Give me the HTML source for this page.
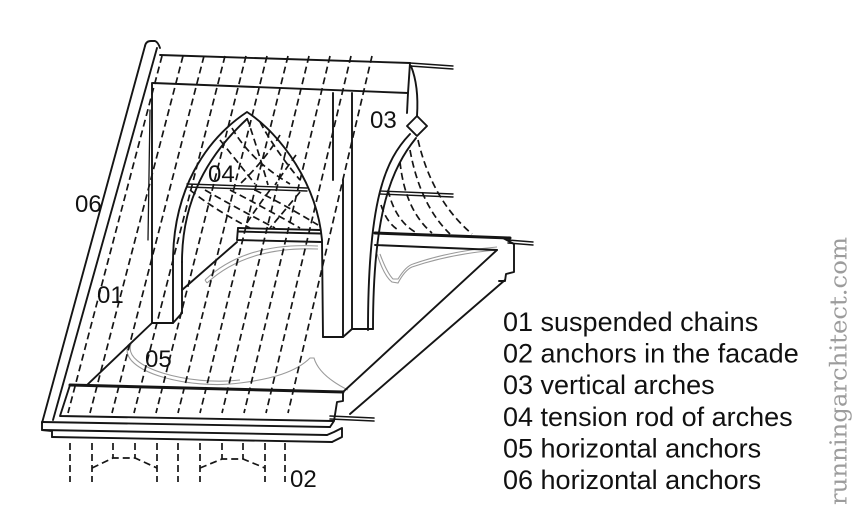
<!DOCTYPE html>
<html><head><meta charset="utf-8"><style>
html,body{margin:0;padding:0;background:#fff;}
svg{display:block}
</style></head><body>
<svg width="863" height="511" viewBox="0 0 863 511" xmlns="http://www.w3.org/2000/svg">
<rect width="863" height="511" fill="#fff"/>

<!-- grey horizontal anchors -->
<g fill="none" stroke="#9a9a9a" stroke-width="1.1">
  <path d="M205 280 Q245 242 318 246"/>
  <path d="M207 283 Q247 246 318 249"/>
  <path d="M205 280 L207 283"/>
  <path d="M377 254 Q384 276 392 282 L398 283 Q405 270 412 267 Q450 254 497 250"/>
  <path d="M380 254 Q387 273 393 279 L398 279 Q406 266 413 264 Q450 251 497 247"/>
  <path d="M128 345 C118 372 190 390 240 383 C272 379 296 372 310 358 L314 358 C318 372 332 382 348 390"/>
  <path d="M131 344 C122 368 190 386 240 380"/>
</g>

<g fill="none" stroke="#151515" stroke-width="1.9" stroke-linejoin="round" stroke-linecap="round">
  <!-- left beam (06) -->
  <path d="M145 46 L42 423"/>
  <path d="M157 48 L53 420"/>
  <path d="M145 46 Q146 41 151 41 L155 41 Q158 42 160 48"/>
  <path d="M150 110 L148 240" stroke-width="1.3"/>

  <!-- top beam -->
  <path d="M160 55 L410 63"/>
  <path d="M153 83 L408 93"/>
  <path d="M410 63 L408 93 L407 113"/>
  <path d="M411 66 Q419 86 417 116"/>
  <path d="M417 116 L427 126 L417 136 L407 126 Z"/>

  <!-- left pier -->
  <path d="M152 83 L152 323 L173 323 L182 313"/>
  <path d="M173 323 L173 262"/>
  <path d="M182 313 L182 262"/>

  <!-- gothic arch -->
  <path d="M173 262 C173 190 205 140 247 112 C282 135 317 185 322 240 L323 337"/>
  <path d="M182 262 C182 200 208 155 247 119"/>

  <!-- shelf / floor under arch -->
  <path d="M238 228 L320 230"/>
  <path d="M238 231.5 L320 233.5"/>
  <path d="M238 228 L237 240 L322 242"/>
  <path d="M237 242 L182 290"/>
  <path d="M152 323 L87 385"/>

  <!-- central pier -->
  <path d="M333 93 L333 180"/>
  <path d="M343 180 L343 337"/>
  <path d="M352 93 L352 329"/>
  <path d="M323 337 L343 337 L352 329 L373 329"/>

  <!-- 03 arch -->
  <path d="M410 134 C385 160 368 200 368 330"/>
  <path d="M416 138 C392 168 373 210 373 329"/>

  <!-- right floor / frame -->
  <path d="M375 245 L497 250"/>
  <path d="M503 238 L514 244 L514 272 L506 274 L505 281 L499 281"/>
  <path d="M497 250 L343 392"/>
  <path d="M505 280 L350 414"/>

  <!-- bottom beam -->
  <path d="M70 385 L60 416 L333 421"/>
  <path d="M42 422 L330 427"/>
  <path d="M42 430 L327 435"/>
  <path d="M52 437 L332 442"/>
  <path d="M42 422 L42 430 L52 431 L52 437"/>
  <path d="M343 392 L343 401 L337 402 L334 421 L330 427"/>
  <path d="M327 435 L334 432 L342 428 L342 437 L332 442"/>
</g>

<!-- thick / double rod lines -->
<g fill="none" stroke="#151515" stroke-linecap="round">
  <path d="M70 385 L343 392" stroke-width="3"/>
  <path d="M375 233 L510 238" stroke-width="3"/>
  <path d="M410 63 L453 66" stroke-width="1.4"/>
  <path d="M410 66 L453 69" stroke-width="1.4"/>
  <path d="M187 184 L307 188" stroke-width="1.4"/>
  <path d="M187 187 L307 191" stroke-width="1.4"/>
  <path d="M380 191 L453 194" stroke-width="1.4"/>
  <path d="M380 194 L453 197" stroke-width="1.4"/>
  <path d="M508 240 L533 242" stroke-width="1.5"/>
  <path d="M508 243 L533 245" stroke-width="1.5"/>
  <path d="M330 416 L374 418" stroke-width="1.6"/>
  <path d="M330 419 L374 421" stroke-width="1.6"/>
</g>

<!-- dashed suspended chains -->
<g fill="none" stroke="#151515" stroke-width="1.7" stroke-dasharray="7 4">
  <path d="M162 56 L68 413"/>
  <path d="M183 56 L90 413"/>
  <path d="M204 56 L112 413"/>
  <path d="M225 56 L134 413"/>
  <path d="M246 56 L156 413"/>
  <path d="M267 56 L178 413"/>
  <path d="M288 56 L200 413"/>
  <path d="M309 56 L222 413"/>
  <path d="M330 56 L244 413"/>
  <path d="M351 56 L266 413"/>
  <path d="M372 56 L288 413"/>
  <!-- arch hatching above rod -->
  <path d="M247 118 Q258 150 268 185"/>
  <path d="M232 128 Q250 160 290 184"/>
  <path d="M220 140 Q240 165 255 184"/>
  <path d="M260 122 Q275 150 300 180"/>
  <path d="M280 135 Q265 160 240 184"/>
  <path d="M296 155 Q285 170 275 185"/>
  <!-- below rod -->
  <path d="M190 190 Q215 210 250 228"/>
  <path d="M205 190 Q240 210 275 228"/>
  <path d="M230 190 Q265 208 300 228"/>
  <path d="M255 190 Q285 205 318 225"/>
  <path d="M300 192 Q285 210 270 228"/>
  <path d="M270 190 Q255 210 245 226"/>
  <!-- 03 arch hanging chains -->
  <path d="M418 140 Q432 200 472 234"/>
  <path d="M410 150 Q420 205 450 234"/>
  <path d="M400 162 Q405 210 432 233"/>
  <path d="M388 190 Q395 220 415 232"/>
  <path d="M381 205 Q387 224 400 231"/>
  <!-- facade anchors (02) -->
  <path d="M70 443 L70 482"/>
  <path d="M92 443 L92 482"/>
  <path d="M157 443 L157 482"/>
  <path d="M178 443 L178 482"/>
  <path d="M200 443 L200 482"/>
  <path d="M265 443 L265 482"/>
  <path d="M285 443 L285 482"/>
  <path d="M113 443 L113 458"/>
  <path d="M135 443 L135 458"/>
  <path d="M222 443 L222 459"/>
  <path d="M243 443 L243 459"/>
  <path d="M92 468 L113 458 L135 458 L157 468"/>
  <path d="M200 468 L222 459 L243 459 L265 468"/>
</g>

<!-- labels -->
<g font-family="Liberation Sans, Arial, sans-serif" font-size="24" fill="#111">
  <text x="370" y="128">03</text>
  <text x="208" y="182">04</text>
  <text x="75" y="212">06</text>
  <text x="97" y="303">01</text>
  <text x="145" y="367">05</text>
  <text x="290" y="487">02</text>
</g>

<!-- legend -->
<g font-family="Liberation Sans, Arial, sans-serif" font-size="27" fill="#111">
  <text x="503" y="331">01 suspended chains</text>
  <text x="503" y="362.6">02 anchors in the facade</text>
  <text x="503" y="394.2">03 vertical arches</text>
  <text x="503" y="425.8">04 tension rod of arches</text>
  <text x="503" y="457.4">05 horizontal anchors</text>
  <text x="503" y="489">06 horizontal anchors</text>
</g>

<!-- watermark -->
<text transform="translate(846.5,505) rotate(-90)" font-family="DejaVu Serif, Liberation Serif, serif" font-size="23" fill="#9c9c9c" textLength="268" lengthAdjust="spacingAndGlyphs">runningarchitect.com</text>
</svg>
</body></html>
